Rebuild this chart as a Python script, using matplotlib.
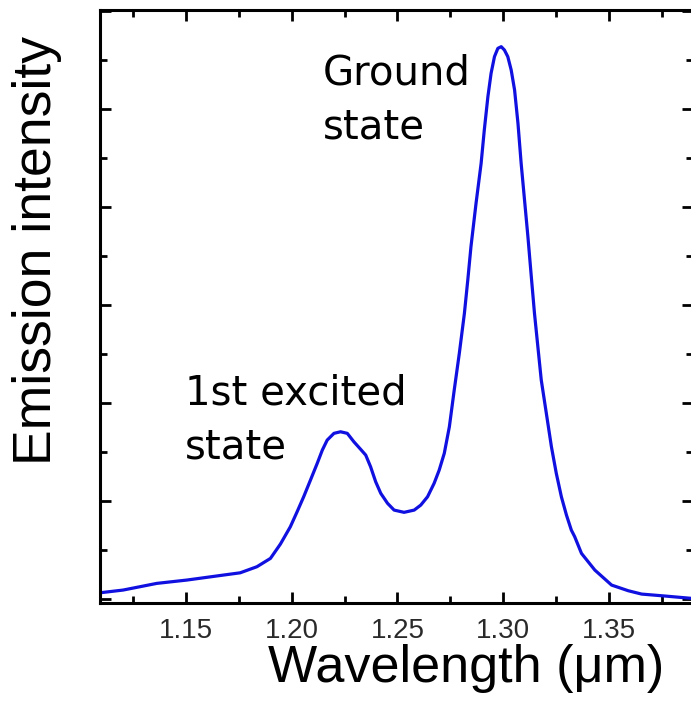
import matplotlib.pyplot as plt
from matplotlib.ticker import MultipleLocator, NullFormatter

# emission spectrum (wavelength in um, intensity in arb. units)
wavelength = [1.1094, 1.1204, 1.1363, 1.1505, 1.1678, 1.1757, 1.1836, 1.1900,
              1.1947, 1.1994, 1.2026, 1.2057, 1.2089, 1.2121, 1.2145, 1.2168,
              1.2200, 1.2231, 1.2263, 1.2294, 1.2326, 1.2350, 1.2373, 1.2397,
              1.2421, 1.2453, 1.2484, 1.2531, 1.2579, 1.2610, 1.2642, 1.2673,
              1.2697, 1.2721, 1.2745, 1.2768, 1.2792, 1.2816, 1.2832, 1.2847,
              1.2871, 1.2895, 1.2910, 1.2927, 1.2942, 1.2958, 1.2974, 1.2990,
              1.3005, 1.3021, 1.3037, 1.3053, 1.3069, 1.3084, 1.3100, 1.3116,
              1.3132, 1.3147, 1.3163, 1.3179, 1.3203, 1.3227, 1.3250, 1.3274,
              1.3298, 1.3321, 1.3337, 1.3369, 1.3432, 1.3511, 1.3590, 1.3653,
              1.3764, 1.3890]
intensity = [0.064, 0.092, 0.160, 0.194, 0.245, 0.268, 0.330, 0.415,
             0.561, 0.738, 0.891, 1.044, 1.214, 1.385, 1.520, 1.622,
             1.691, 1.707, 1.691, 1.605, 1.528, 1.469, 1.350, 1.197,
             1.079, 0.977, 0.908, 0.885, 0.908, 0.959, 1.044, 1.181,
             1.316, 1.487, 1.758, 2.133, 2.507, 2.915, 3.255, 3.595,
             4.038, 4.446, 4.786, 5.126, 5.364, 5.534, 5.619, 5.636,
             5.602, 5.534, 5.398, 5.194, 4.854, 4.446, 4.071, 3.697,
             3.289, 2.915, 2.574, 2.235, 1.895, 1.554, 1.283, 1.044,
             0.857, 0.704, 0.636, 0.466, 0.296, 0.143, 0.085, 0.051,
             0.031, 0.007]

xticks = [1.15, 1.20, 1.25, 1.30, 1.35]

fig = plt.figure(figsize=(6.91, 7.01), dpi=100)
ax = fig.add_axes([0.1447, 0.1398, 0.858, 0.8459])

ax.plot(wavelength, intensity, color='#1010e0', lw=2.3, solid_joinstyle='round')

ax.set_xlim(1.1095, 1.3895)
ax.set_ylim(-0.04, 6.01)
ax.set_xticks(xticks)
ax.set_xticklabels([f'{t:.2f}' for t in xticks])
ax.xaxis.set_minor_locator(MultipleLocator(0.025))
ax.yaxis.set_major_locator(MultipleLocator(1))
ax.yaxis.set_minor_locator(MultipleLocator(0.5))
ax.yaxis.set_major_formatter(NullFormatter())

ax.tick_params(which='both', direction='in', top=True, right=True, width=2)
ax.tick_params(which='major', length=8)
ax.tick_params(which='minor', length=5)
ax.tick_params(axis='x', labelsize=20, pad=11, labelcolor='#2a2a2a')
for lab in ax.get_xticklabels():
    lab.set_family('Liberation Sans')
for s in ax.spines.values():
    s.set_linewidth(2.2)

ax.text(1.2146, 5.57, 'Ground\nstate', fontsize=29, va='top', ha='left',
        linespacing=1.45)
ax.text(1.1496, 2.30, '1st excited\nstate', fontsize=29, va='top', ha='left',
        linespacing=1.45)

fig.text(466/691, (701-682)/701, 'Wavelength (\u03bcm)', family='Liberation Sans',
         fontsize=37.5, ha='center', va='baseline')
fig.text(37/691, 1-250/701, 'Emission intensity', family='Liberation Sans',
         fontsize=38.5, ha='center', va='center', rotation=90)

plt.savefig('out.png', dpi=100)
